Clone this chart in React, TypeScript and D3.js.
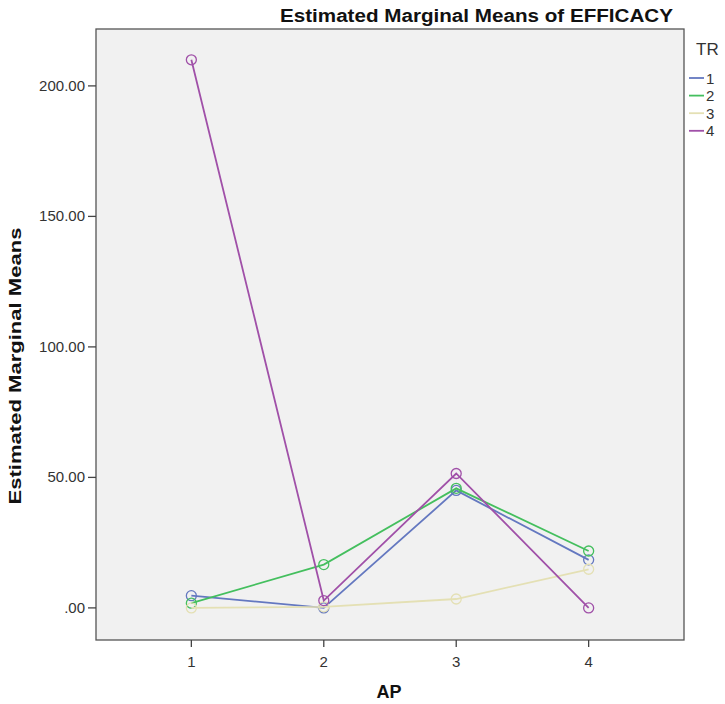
import React from "react";
import * as d3 from "d3";

const apCategories = [1, 2, 3, 4];
const trLabels = ["1", "2", "3", "4"];
const tr1 = [4.7, 0.0, 45.0, 18.4];
const tr2 = [1.8, 16.6, 45.8, 21.8];
const tr3 = [0.0, 0.4, 3.4, 14.8];
const tr4 = [210.0, 2.8, 51.5, 0.0];
const yTicks = [0, 50, 100, 150, 200];
const seriesColors = ["#6478c0", "#44bf5e", "#e4e0b4", "#a050a8"];

const W = 725;
const H = 704;
const plot = { left: 96, right: 684, top: 29, bottom: 640 };

export default function App() {
  const series = [tr1, tr2, tr3, tr4];
  const x = d3.scaleLinear().domain([0.28, 4.72]).range([plot.left, plot.right]);
  const y = d3.scaleLinear().domain([-12.3, 221.8]).range([plot.bottom, plot.top]);
  const line = d3
    .line<number>()
    .x((_, i) => x(apCategories[i]))
    .y((d) => y(d));

  const font = "'Liberation Sans', Arial, sans-serif";
  return (
    <svg
      width={W}
      height={H}
      style={{ position: "absolute", left: 0, top: 0, background: "#fff" }}
      fontFamily={font}
    >
      <rect x={0} y={0} width={W} height={H} fill="#fff" />
      <rect
        x={plot.left}
        y={plot.top}
        width={plot.right - plot.left}
        height={plot.bottom - plot.top}
        fill="#f1f1f1"
        stroke="#555"
        strokeWidth={1.3}
      />
      <text
        x={673}
        y={22}
        textAnchor="end"
        fontSize={18}
        fontWeight="bold"
        fill="#111"
        textLength={393}
        lengthAdjust="spacingAndGlyphs"
      >
        Estimated Marginal Means of EFFICACY
      </text>
      {yTicks.map((t) => (
        <g key={t}>
          <line x1={plot.left - 8} x2={plot.left} y1={y(t)} y2={y(t)} stroke="#444" strokeWidth={1.3} />
          <text x={plot.left - 11} y={y(t) + 5} textAnchor="end" fontSize={15} fill="#333">
            {t === 0 ? ".00" : t.toFixed(2)}
          </text>
        </g>
      ))}
      {apCategories.map((c) => (
        <g key={c}>
          <line x1={x(c)} x2={x(c)} y1={plot.bottom} y2={plot.bottom + 7} stroke="#444" strokeWidth={1.3} />
          <text x={x(c)} y={plot.bottom + 27} textAnchor="middle" fontSize={15} fill="#333">
            {c}
          </text>
        </g>
      ))}
      <text
        x={0}
        y={0}
        transform={`translate(21,${366}) rotate(-90)`}
        textAnchor="middle"
        fontSize={17}
        fontWeight="bold"
        fill="#111"
        textLength={277}
        lengthAdjust="spacingAndGlyphs"
      >
        Estimated Marginal Means
      </text>
      <text x={389} y={698} textAnchor="middle" fontSize={18} fontWeight="bold" fill="#111">
        AP
      </text>
      {series.map((s, k) => (
        <g key={k}>
          <path d={line(s) || ""} fill="none" stroke={seriesColors[k]} strokeWidth={1.8} />
          {s.map((v, i) => (
            <circle
              key={i}
              cx={x(apCategories[i])}
              cy={y(v)}
              r={5}
              fill="none"
              stroke={seriesColors[k]}
              strokeWidth={1.3}
            />
          ))}
        </g>
      ))}
      <text x={696} y={55} fontSize={17} fill="#333">
        TR
      </text>
      {trLabels.map((lab, k) => (
        <g key={lab}>
          <line x1={689} x2={704} y1={78 + k * 17.6} y2={78 + k * 17.6} stroke={seriesColors[k]} strokeWidth={1.8} />
          <text x={706} y={78 + k * 17.6 + 5.5} fontSize={15} fill="#333">
            {lab}
          </text>
        </g>
      ))}
    </svg>
  );
}
